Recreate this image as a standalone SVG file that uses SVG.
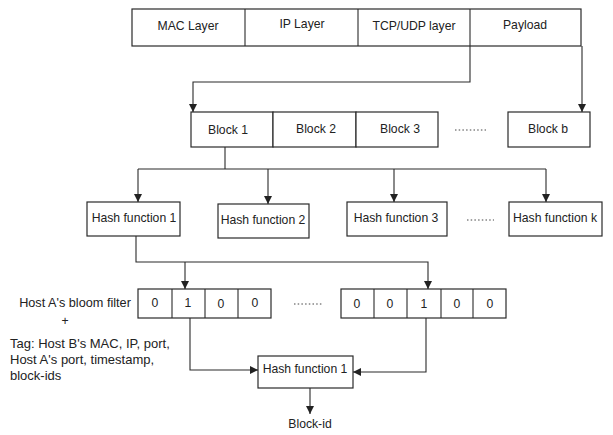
<svg xmlns="http://www.w3.org/2000/svg" width="613" height="435" viewBox="0 0 613 435">
<style>
.b{fill:#fff;stroke:#2a2a2a;stroke-width:1.2}
.t{font-family:"Liberation Sans",Arial,sans-serif;font-size:12.2px;fill:#222;text-anchor:middle}
.l{font-family:"Liberation Sans",Arial,sans-serif;font-size:13px;fill:#222}
.c{fill:none;stroke:#2a2a2a;stroke-width:1.1}
.d{fill:none;stroke:#444;stroke-width:1;stroke-dasharray:1.5 2.2}
</style>
<defs>
<marker id="a" viewBox="0 0 10 10" refX="10" refY="5" markerWidth="8" markerHeight="8" markerUnits="userSpaceOnUse" orient="auto">
<path d="M0,0 L10,5 L0,10 z" fill="#222"/>
</marker>
</defs>
<rect width="613" height="435" fill="#fff"/>
<g id="packet">
<rect class="b" x="132" y="9" width="449" height="37"/>
<line class="c" x1="245" y1="9" x2="245" y2="46"/>
<line class="c" x1="358" y1="9" x2="358" y2="46"/>
<line class="c" x1="470" y1="9" x2="470" y2="46"/>
<text class="t" x="188" y="30">MAC Layer</text>
<text class="t" x="302" y="28">IP Layer</text>
<text class="t" x="414" y="30">TCP/UDP layer</text>
<text class="t" x="525" y="29">Payload</text>
</g>
<g id="blocks">
<rect class="b" x="191" y="112" width="82" height="35"/>
<rect class="b" x="273" y="112" width="83" height="35"/>
<rect class="b" x="356" y="112" width="82" height="35"/>
<rect class="b" x="508" y="112" width="82" height="35"/>
<text class="t" x="228" y="134">Block 1</text>
<text class="t" x="316" y="133">Block 2</text>
<text class="t" x="400" y="133">Block 3</text>
<text class="t" x="548" y="133">Block b</text>
<line class="d" x1="455" y1="130" x2="486" y2="130"/>
</g>
<g id="hashes">
<rect class="b" x="87" y="202" width="93" height="34"/>
<rect class="b" x="218" y="204" width="91" height="34"/>
<rect class="b" x="347" y="202" width="100" height="34"/>
<rect class="b" x="509" y="202" width="93" height="34"/>
<text class="t" x="134" y="222">Hash function 1</text>
<text class="t" x="263" y="224">Hash function 2</text>
<text class="t" x="396" y="222">Hash function 3</text>
<text class="t" x="555" y="222">Hash function k</text>
<line class="d" x1="467" y1="220" x2="494" y2="220"/>
</g>
<g id="bloom">
<rect class="b" x="138" y="289" width="133" height="29"/>
<line class="c" x1="172" y1="289" x2="172" y2="318"/>
<line class="c" x1="205" y1="289" x2="205" y2="318"/>
<line class="c" x1="238" y1="289" x2="238" y2="318"/>
<rect class="b" x="341" y="289" width="165" height="29"/>
<line class="c" x1="374" y1="289" x2="374" y2="318"/>
<line class="c" x1="407" y1="289" x2="407" y2="318"/>
<line class="c" x1="441" y1="289" x2="441" y2="318"/>
<line class="c" x1="473" y1="289" x2="473" y2="318"/>
<text class="t" x="155" y="307">0</text>
<text class="t" x="188" y="307">1</text>
<text class="t" x="221" y="308">0</text>
<text class="t" x="255" y="307">0</text>
<text class="t" x="357" y="308">0</text>
<text class="t" x="390" y="308">0</text>
<text class="t" x="424" y="308">1</text>
<text class="t" x="457" y="308">0</text>
<text class="t" x="490" y="308">0</text>
<line class="d" x1="294" y1="304" x2="323" y2="304"/>
<text class="t" x="75" y="307" style="font-size:12.7px">Host A's bloom filter</text>
<text class="t" x="65" y="325">+</text>
<text class="l" x="10" y="348">Tag: Host B's MAC, IP, port,</text>
<text class="l" x="10" y="364">Host A's port, timestamp,</text>
<text class="l" x="10" y="380">block-ids</text>
</g>
<g id="hashfinal">
<rect class="b" x="258" y="356" width="95" height="32"/>
<text class="t" x="305" y="373">Hash function 1</text>
<text class="t" x="310" y="428">Block-id</text>
</g>
<g id="connectors">
<polyline class="c" points="470,46 470,82 193,82 193,112" marker-end="url(#a)"/>
<polyline class="c" points="582,46 582,112" marker-end="url(#a)"/>
<line class="c" x1="225" y1="147" x2="225" y2="169"/>
<line class="c" x1="138" y1="169" x2="546" y2="169"/>
<line class="c" x1="138" y1="169" x2="138" y2="202" marker-end="url(#a)"/>
<line class="c" x1="268" y1="169" x2="268" y2="204" marker-end="url(#a)"/>
<line class="c" x1="394" y1="169" x2="394" y2="202" marker-end="url(#a)"/>
<line class="c" x1="546" y1="169" x2="546" y2="202" marker-end="url(#a)"/>
<polyline class="c" points="136,236 136,262 428,262 428,289" marker-end="url(#a)"/>
<line class="c" x1="185" y1="262" x2="185" y2="289" marker-end="url(#a)"/>
<polyline class="c" points="190,318 190,370 258,370" marker-end="url(#a)"/>
<polyline class="c" points="426,318 426,372 353,372" marker-end="url(#a)"/>
<line class="c" x1="310" y1="388" x2="310" y2="414" marker-end="url(#a)"/>
</g>
</svg>
